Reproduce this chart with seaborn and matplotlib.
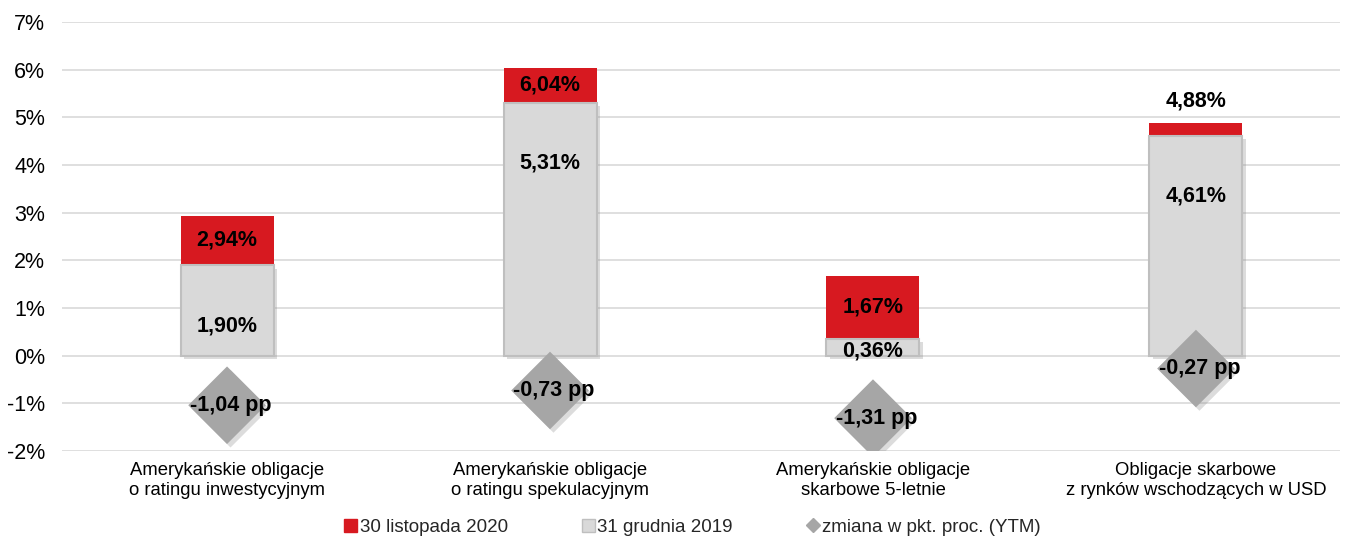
import matplotlib
matplotlib.use("Agg")
import matplotlib.pyplot as plt
import matplotlib.patheffects as pe
import seaborn as sns
import numpy as np
import pandas as pd
from matplotlib.lines import Line2D
from matplotlib.patches import Patch

categories = [
    "Amerykańskie obligacje\no ratingu inwestycyjnym",
    "Amerykańskie obligacje\no ratingu spekulacyjnym",
    "Amerykańskie obligacje\nskarbowe 5-letnie",
    "Obligacje skarbowe\nz rynków wschodzących w USD",
]
nov2020 = [2.94, 6.04, 1.67, 4.88]
dec2019 = [1.90, 5.31, 0.36, 4.61]
change = [-1.04, -0.73, -1.31, -0.27]
series_names = ["30 listopada 2020", "31 grudnia 2019", "zmiana w pkt. proc. (YTM)"]
yticks = [-2, -1, 0, 1, 2, 3, 4, 5, 6, 7]

RED = "#d71920"
GREY = "#d9d9d9"
GREY_EDGE = "#bfbfbf"
DIAMOND = "#a6a6a6"

sns.set_theme(style="white")
plt.rcParams["font.family"] = ["Liberation Sans", "DejaVu Sans"]

fig = plt.figure(figsize=(13.46, 5.39), dpi=100)
ax = fig.add_axes([62 / 1346, 1 - 451 / 539, (1340 - 62) / 1346, (451 - 22) / 539])

df = pd.DataFrame({"cat": categories, "nov": nov2020, "dec": dec2019, "chg": change})
df["pos"] = np.arange(len(df))

def shadow():
    return [pe.SimplePatchShadow(offset=(2.5, -2.5), shadow_rgbFace="#8c8c8c", alpha=0.3),
            pe.Normal()]

W = 0.288
sns.barplot(data=df, x="cat", y="nov", color=RED, saturation=1, width=W, ax=ax,
            edgecolor=RED, linewidth=0, zorder=2)
n_red = len(ax.patches)
sns.barplot(data=df, x="cat", y="dec", color=GREY, saturation=1, width=W, ax=ax,
            edgecolor=GREY_EDGE, linewidth=1.5, zorder=3)
for p in ax.patches[n_red:]:
    p.set_path_effects(shadow())
sns.scatterplot(data=df, x="pos", y="chg", marker="D", s=39.5 ** 2, color=DIAMOND,
                edgecolor="none", ax=ax, zorder=4)
ax.collections[-1].set_path_effects(shadow())

# labels
fs = 15.5
for i, (n, d, c) in enumerate(zip(nov2020, dec2019, change)):
    gap = n - d
    if gap > 0.5:
        ny = (n + d) / 2
        va = "center"
    else:
        ny = n + 0.25
        va = "bottom"
    ax.text(i, ny, f"{n:.2f}%".replace(".", ","), ha="center", va=va,
            fontsize=fs, fontweight="bold", color="black", zorder=6)
    if d > 1.5:
        gy = d - 1.27
    elif d > 1:
        gy = d - 1.12
    else:
        gy = d / 4
    ax.text(i, gy, f"{d:.2f}%".replace(".", ","), ha="center", va="center",
            fontsize=fs, fontweight="bold", color="black", zorder=6)
    ax.text(i + 0.012, c, f"{c:.2f} pp".replace(".", ","), ha="center", va="center",
            fontsize=fs, fontweight="bold", color="black", zorder=6)

ax.set_ylim(-2, 7)
ax.set_xlim(-0.511, 3.446)
ax.set_yticks(yticks)
ax.set_yticklabels([f"{t}%" for t in yticks], fontsize=15.5, color="black")
ax.tick_params(axis="y", length=0, pad=12)
ax.tick_params(axis="x", length=0, pad=8, labelsize=13.3, labelcolor="black")
ax.set_xlabel("")
ax.set_ylabel("")
ax.grid(axis="y", color="#d9d9d9", linewidth=1.2, zorder=0)
ax.set_axisbelow(True)
for s in ax.spines.values():
    s.set_visible(False)

handles = [
    Patch(facecolor=RED, edgecolor=RED, label=series_names[0]),
    Patch(facecolor=GREY, edgecolor=GREY_EDGE, label=series_names[1]),
    Line2D([], [], marker="D", color=DIAMOND, linestyle="none", markersize=7.5,
           label=series_names[2]),
]
fig.legend(handles=handles, loc="center", bbox_to_anchor=(0.5145, 0.022), ncol=3,
           frameon=False, fontsize=13.5, handlelength=0.7, handleheight=0.7,
           handletextpad=0.15, columnspacing=3.9)

fig.savefig("out.png", dpi=100)
